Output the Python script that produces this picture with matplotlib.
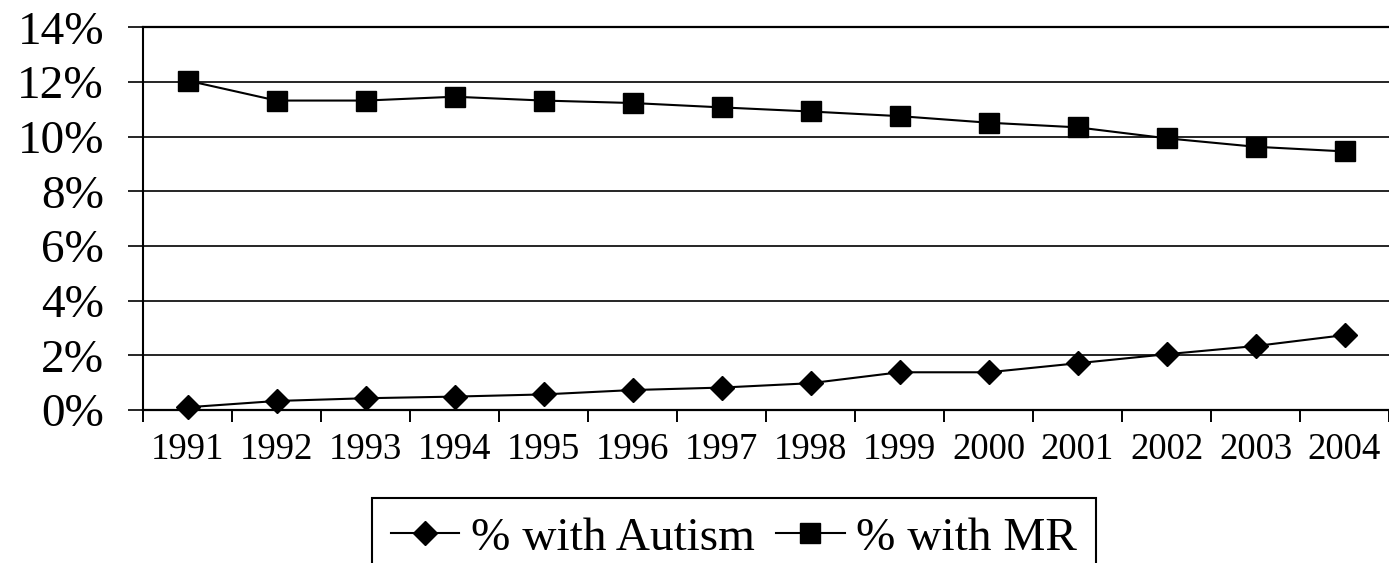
import matplotlib.pyplot as plt
import numpy as np

plt.rcParams['font.family'] = ['Liberation Serif', 'DejaVu Serif']

years = ['1991', '1992', '1993', '1994', '1995', '1996', '1997',
         '1998', '1999', '2000', '2001', '2002', '2003', '2004']
pct_autism = [0.10, 0.33, 0.43, 0.49, 0.57, 0.73, 0.82,
              0.98, 1.38, 1.38, 1.71, 2.04, 2.34, 2.74]
pct_mr = [12.05, 11.32, 11.32, 11.46, 11.32, 11.23, 11.07,
          10.92, 10.75, 10.51, 10.34, 9.94, 9.63, 9.46]
y_ticks = [0, 2, 4, 6, 8, 10, 12, 14]

fig = plt.figure(figsize=(13.89, 5.63), dpi=100)
ax = fig.add_axes([143 / 1389, 1 - 410 / 563, 1 - 143 / 1389, (410 - 27.3) / 563])

x = np.arange(len(years))
ax.plot(x, pct_autism, color='black', lw=1.5, marker='D', ms=12,
        label='% with Autism', clip_on=False, zorder=3)
ax.plot(x, pct_mr, color='black', lw=1.5, marker='s', ms=14.5,
        label='% with MR', clip_on=False, zorder=3)

ax.set_xlim(-0.5, len(years) - 0.5)
ax.set_ylim(0, 14)

# y axis: percent labels with gridlines
ax.set_yticks(y_ticks)
ax.set_yticklabels([f'{v}%' for v in y_ticks])
ax.tick_params(axis='y', direction='out', length=11, width=1.2,
               labelsize=34, pad=17)
ax.yaxis.grid(True, color='black', lw=1.2)
for gl in ax.yaxis.get_gridlines():
    gl.set_clip_on(False)
ax.yaxis.get_gridlines()[-1].set_linewidth(1.6)

# x axis: ticks between categories, labels at centres
ax.set_xticks(np.arange(-0.5, len(years), 1.0))
ax.set_xticklabels([])
ax.set_xticks(x, minor=True)
ax.set_xticklabels(years, minor=True)
ax.tick_params(axis='x', which='major', direction='out', length=8.5, width=1.4)
ax.tick_params(axis='x', which='minor', length=0, labelsize=26.5, pad=16)

for side in ['top', 'right']:
    ax.spines[side].set_visible(False)
ax.spines['left'].set_linewidth(1.5)
ax.spines['bottom'].set_linewidth(1.6)
ax.set_axisbelow(True)

leg = fig.legend(loc='upper center', bbox_to_anchor=(734 / 1389, 1 - 498 / 563),
                 ncol=2, fontsize=34, frameon=True, fancybox=False,
                 edgecolor='black', handlelength=1.45, handletextpad=0.25,
                 columnspacing=0.45, borderpad=0.4, borderaxespad=0)
leg.get_frame().set_linewidth(1.5)
leg.get_frame().set_alpha(None)

fig.savefig('out.png', dpi=100)
